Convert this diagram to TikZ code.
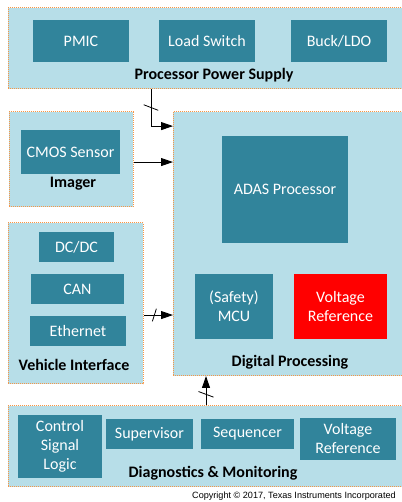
\documentclass[tikz,border=0pt]{standalone}
\usepackage{fontspec}
\setmainfont{Carlito}
\newfontfamily\arialfont{Liberation Sans}
\usepackage{tikz}
\usetikzlibrary{calc, positioning}
\usetikzlibrary{arrows.meta}
\tikzset{>={Triangle[length=12pt,width=8pt]}}
\usepackage{xcolor}
\definecolor{grpblue}{HTML}{B7DEE8}
\definecolor{boxteal}{HTML}{31849B}
\definecolor{grporange}{HTML}{F79646}

\begin{document}
\begin{tikzpicture}[x=1pt, y=1pt,
		group/.style={fill=grpblue, draw=grporange, line width=0.9pt, dash pattern=on 1pt off 1pt, anchor=south west, inner sep=0pt},
		blk/.style={fill=boxteal, text=white, inner sep=0pt, align=center, font=\fontsize{16}{19}\selectfont},
		grplbl/.style={font=\fontsize{16}{19}\selectfont\bfseries, inner sep=0pt},
		slashmark/.style={line width=0.8pt}]
			\useasboundingbox (0,0) rectangle (401,502);
			% groups
			\node [group, minimum width=422pt, minimum height=81pt] (pps) at (8,413) {};
			\node [group, minimum width=124pt, minimum height=95pt] (imager) at (9,295) {};
			\node [group, minimum width=257pt, minimum height=264pt] (dp) at (173,126) {};
			\node [group, minimum width=135pt, minimum height=161pt] (vi) at (8,118) {};
			\node [group, minimum width=422pt, minimum height=81pt] (dm) at (8,15) {};
			% processor power supply
			\node [blk, minimum width=96pt, minimum height=42pt] (pmic) at (81,461) {PMIC};
			\node [blk, minimum width=96pt, minimum height=42pt] (loadsw) at (207,461) {Load Switch};
			\node [blk, minimum width=96pt, minimum height=42pt] (buck) at (339,461) {Buck/LDO};
			\node [grplbl] (ppslbl) at (214,427) {Processor Power Supply};
			% imager
			\node [blk, minimum width=99pt, minimum height=44pt] (cmos) at (70.5,350) {CMOS Sensor};
			\node [grplbl] (imagerlbl) at (73,318) {Imager};
			% digital processing
			\node [blk, minimum width=126pt, minimum height=107pt] (adas) at (285,312.5) {ADAS Processor};
			\node [blk, minimum width=78pt, minimum height=65pt] (mcu) at (234,195.5) {(Safety)\\MCU};
			\node [blk, fill=red, minimum width=93pt, minimum height=65pt] (vref) at (340.5,195.5) {Voltage\\Reference};
			\node [grplbl] (dplbl) at (290,140) {Digital Processing};
			% vehicle interface
			\node [blk, minimum width=75pt, minimum height=30pt] (dcdc) at (76.5,255) {DC/DC};
			\node [blk, minimum width=93pt, minimum height=30pt] (can) at (77.5,213) {CAN};
			\node [blk, minimum width=96pt, minimum height=30pt] (eth) at (78,171) {Ethernet};
			\node [grplbl] (vilbl) at (74,137) {Vehicle Interface};
			% diagnostics & monitoring
			\node [blk, minimum width=84pt, minimum height=63pt] (csl) at (60,55.5) {Control\\Signal\\Logic};
			\node [blk, minimum width=87pt, minimum height=30pt] (sup) at (149.5,68) {Supervisor};
			\node [blk, minimum width=93pt, minimum height=30pt] (seq) at (247.5,68) {Sequencer};
			\node [blk, minimum width=96pt, minimum height=42pt] (dmvref) at (348,63) {Voltage\\Reference};
			\node [grplbl] (dmlbl) at (213,29) {Diagnostics \& Monitoring};
			% connectors
			\draw [->, line width=0.9pt] ([xshift=143pt]pps.south west) |- coordinate[pos=0.25] (s1) ([yshift=-15pt]dp.north west);
			\draw [slashmark] ($(s1)+(-7.3,2.8)$) -- ($(s1)+(7.3,-2.8)$);
			\draw [->, line width=0.9pt] ([yshift=-3pt]imager.east) -- ([yshift=-3pt]imager.east -| dp.west);
			\draw [->, line width=0.9pt] ([yshift=-12pt]vi.east) -- coordinate[pos=0.36] (s2) ([yshift=-12pt]vi.east -| dp.west);
			\draw [slashmark] ($(s2)+(-2,-6.3)$) -- ($(s2)+(2,6.3)$);
			\draw [->, line width=0.9pt] ([xshift=198pt]dm.north west) -- coordinate[pos=0.37] (s3) ([xshift=33pt]dp.south west);
			\draw [slashmark] ($(s3)+(-7.5,2.8)$) -- ($(s3)+(7.5,-2.8)$);
			% copyright
			\node [anchor=base west, inner sep=0pt, font=\arialfont\fontsize{9.1}{11}\selectfont] (copy) at (192,3.5) {Copyright \textcopyright{} 2017, Texas Instruments Incorporated};
		\end{tikzpicture}
\end{document}
